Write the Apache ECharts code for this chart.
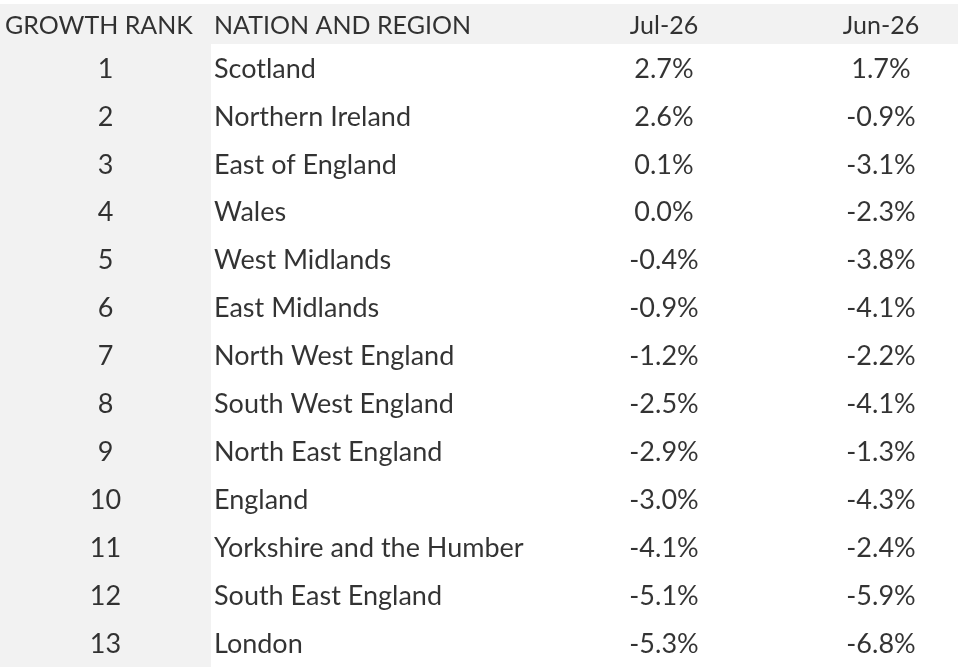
<!DOCTYPE html>
<html>
<head>
<meta charset="utf-8">
<script src="https://cdn.jsdelivr.net/npm/echarts@6/dist/echarts.min.js"></script>
<style>
html,body{margin:0;padding:0;background:#fff;}
#c{width:960px;height:667px;}
</style>
</head>
<body>
<div id="c"></div>
<script>
const headers = ['GROWTH RANK', 'NATION AND REGION', 'Jul-26', 'Jun-26'];
const ranks = [1, 2, 3, 4, 5, 6, 7, 8, 9, 10, 11, 12, 13];
const regions = ['Scotland', 'Northern Ireland', 'East of England', 'Wales', 'West Midlands', 'East Midlands',
  'North West England', 'South West England', 'North East England', 'England', 'Yorkshire and the Humber',
  'South East England', 'London'];
const jul26 = [2.7, 2.6, 0.1, 0.0, -0.4, -0.9, -1.2, -2.5, -2.9, -3.0, -4.1, -5.1, -5.3];
const jun26 = [1.7, -0.9, -3.1, -2.3, -3.8, -4.1, -2.2, -4.1, -1.3, -4.3, -2.4, -5.9, -6.8];

const FONT = 'Lato';
const FS_HEAD = 25;
const FS_BODY = 27;
const COLOR = '#000';
// column anchors in axis units (0..960)
const COL = { rankHead: 5, rank: 105.5, region: 214, jul: 664, jun: 881, rankBandEnd: 211 };

function txtLabel(align, size, dy, fmt) {
  return {
    show: true,
    position: align === 'left' ? 'right' : 'inside',
    distance: 0,
    offset: [0, dy],
    color: COLOR,
    fontFamily: FONT,
    fontSize: size,
    formatter: fmt
  };
}
const pct = v => v.toFixed(1) + '%';

const chart = echarts.init(document.getElementById('c'), null, { renderer: 'canvas' });
chart.setOption({
  backgroundColor: '#fff',
  animation: false,
  grid: [
    { left: 0, top: 4, width: 958, height: 40, show: true, backgroundColor: '#f2f2f2', borderWidth: 0 },
    { left: 0, top: 44, width: 960, height: 624, show: false }
  ],
  xAxis: [
    { type: 'value', gridIndex: 0, min: 0, max: 958, show: false },
    { type: 'value', gridIndex: 1, min: 0, max: 960, show: false }
  ],
  yAxis: [
    { type: 'category', gridIndex: 0, data: ['header'], show: false },
    { type: 'category', gridIndex: 1, data: regions, inverse: true, show: false }
  ],
  series: [
    // header
    {
      type: 'scatter', xAxisIndex: 0, yAxisIndex: 0, symbolSize: 0, silent: true,
      data: [[COL.rankHead, 'header'], [COL.region, 'header']],
      label: txtLabel('left', FS_HEAD, 2, p => headers[p.dataIndex])
    },
    {
      type: 'scatter', xAxisIndex: 0, yAxisIndex: 0, symbolSize: 0, silent: true,
      data: [[COL.jul, 'header'], [COL.jun, 'header']],
      label: txtLabel('center', FS_HEAD, 2, p => headers[p.dataIndex + 2])
    },
    // rank column with grey band
    {
      type: 'scatter', xAxisIndex: 1, yAxisIndex: 1, symbolSize: 0, silent: true,
      data: regions.map(r => [COL.rank, r]),
      label: txtLabel('center', FS_BODY, 1, p => String(ranks[p.dataIndex])),
      markArea: {
        silent: true,
        itemStyle: { color: '#f2f2f2' },
        data: [[{ xAxis: 0 }, { xAxis: COL.rankBandEnd }]]
      },
      z: 3
    },
    {
      type: 'scatter', xAxisIndex: 1, yAxisIndex: 1, symbolSize: 0, silent: true,
      data: regions.map(r => [COL.region, r]),
      label: txtLabel('left', FS_BODY, 1, p => regions[p.dataIndex])
    },
    {
      type: 'scatter', xAxisIndex: 1, yAxisIndex: 1, symbolSize: 0, silent: true,
      data: regions.map(r => [COL.jul, r]),
      label: txtLabel('center', FS_BODY, 1, p => pct(jul26[p.dataIndex]))
    },
    {
      type: 'scatter', xAxisIndex: 1, yAxisIndex: 1, symbolSize: 0, silent: true,
      data: regions.map(r => [COL.jun, r]),
      label: txtLabel('center', FS_BODY, 1, p => pct(jun26[p.dataIndex]))
    }
  ]
});
</script>
</body>
</html>
